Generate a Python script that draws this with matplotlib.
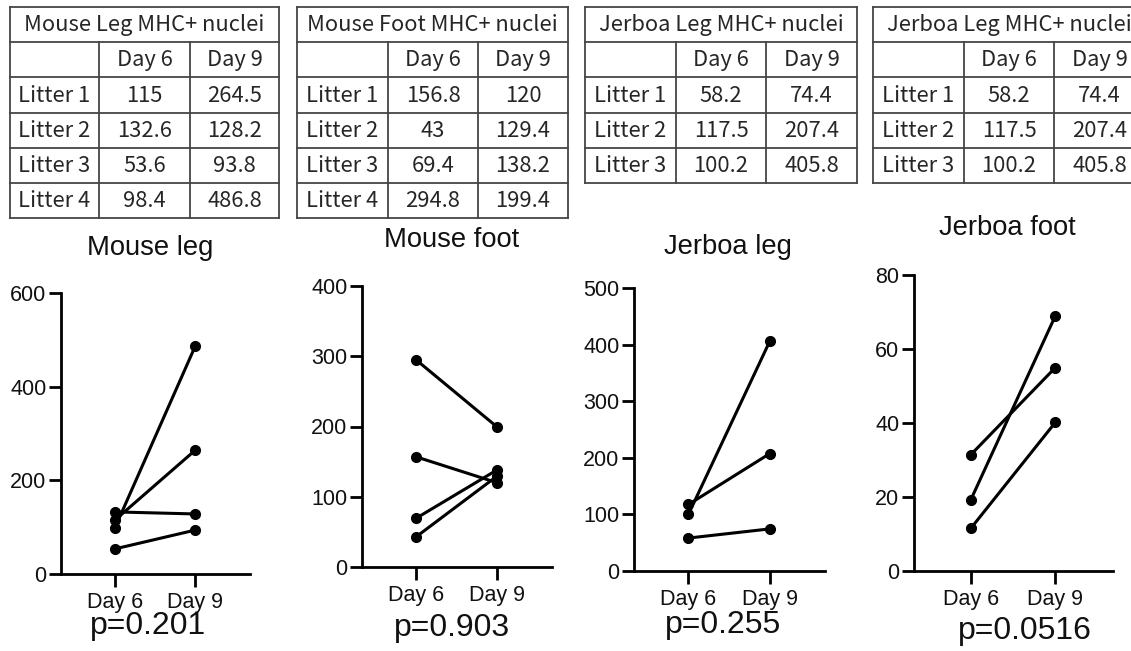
import matplotlib
matplotlib.use("Agg")
import matplotlib.pyplot as plt

W, H = 1131, 651

# ---------------- data ----------------
days = ["Day 6", "Day 9"]

mouse_leg_litters = ["Litter 1", "Litter 2", "Litter 3", "Litter 4"]
mouse_leg_day6 = [115, 132.6, 53.6, 98.4]
mouse_leg_day9 = [264.5, 128.2, 93.8, 486.8]
mouse_leg_d6_txt = ["115", "132.6", "53.6", "98.4"]
mouse_leg_d9_txt = ["264.5", "128.2", "93.8", "486.8"]

mouse_foot_litters = ["Litter 1", "Litter 2", "Litter 3", "Litter 4"]
mouse_foot_day6 = [156.8, 43, 69.4, 294.8]
mouse_foot_day9 = [120, 129.4, 138.2, 199.4]
mouse_foot_d6_txt = ["156.8", "43", "69.4", "294.8"]
mouse_foot_d9_txt = ["120", "129.4", "138.2", "199.4"]

jerboa_leg_litters = ["Litter 1", "Litter 2", "Litter 3"]
jerboa_leg_day6 = [58.2, 117.5, 100.2]
jerboa_leg_day9 = [74.4, 207.4, 405.8]
jerboa_leg_d6_txt = ["58.2", "117.5", "100.2"]
jerboa_leg_d9_txt = ["74.4", "207.4", "405.8"]

# jerboa foot values
jerboa_foot_day6 = [31.4, 19.2, 11.5]
jerboa_foot_day9 = [55.0, 69.0, 40.2]

table_titles = ["Mouse Leg MHC+ nuclei", "Mouse Foot MHC+ nuclei",
                "Jerboa Leg MHC+ nuclei", "Jerboa Leg MHC+ nuclei"]
plot_titles = ["Mouse leg", "Mouse foot", "Jerboa leg", "Jerboa foot"]
p_values = ["p=0.201", "p=0.903", "p=0.255", "p=0.0516"]
y_maxes = [600, 400, 500, 80]
y_steps = [200, 100, 100, 20]

tables = [
    (mouse_leg_litters, mouse_leg_d6_txt, mouse_leg_d9_txt),
    (mouse_foot_litters, mouse_foot_d6_txt, mouse_foot_d9_txt),
    (jerboa_leg_litters, jerboa_leg_d6_txt, jerboa_leg_d9_txt),
    (jerboa_leg_litters, jerboa_leg_d6_txt, jerboa_leg_d9_txt),
]
series = [
    (mouse_leg_day6, mouse_leg_day9),
    (mouse_foot_day6, mouse_foot_day9),
    (jerboa_leg_day6, jerboa_leg_day9),
    (jerboa_foot_day6, jerboa_foot_day9),
]

# ---------------- layout ----------------
fig = plt.figure(figsize=(W / 100, H / 100), dpi=100)
fig.patch.set_facecolor("white")

overlay = fig.add_axes([0, 0, 1, 1])
overlay.set_xlim(0, W)
overlay.set_ylim(H, 0)
overlay.axis("off")

TFONT = ["Noto Sans CJK JP", "DejaVu Sans"]
tcolor = "#262626"
lcolor = "#454545"
table_cols = [(10, 99, 190, 279), (297, 388, 478, 568),
              (585, 676, 766, 857), (873, 964, 1054, 1145)]
row_edges = [7, 42, 77, 113, 148, 183, 218]
tfs = 15.8

for (x0, x1, x2, x3), title, (labels, d6, d9) in zip(table_cols, table_titles, tables):
    nrows = 2 + len(labels)
    ys = row_edges[:nrows + 1]
    lw = 1.3
    for y in ys:
        overlay.plot([x0, x3], [y, y], color=lcolor, lw=lw, solid_capstyle="projecting")
    overlay.plot([x0, x0], [ys[0], ys[-1]], color=lcolor, lw=lw)
    overlay.plot([x3, x3], [ys[0], ys[-1]], color=lcolor, lw=lw)
    for x in (x1, x2):
        overlay.plot([x, x], [ys[1], ys[-1]], color=lcolor, lw=lw)
    overlay.text((x0 + x3) / 2, (ys[0] + ys[1]) / 2 + 0.5, title, ha="center", va="center",
                 fontsize=tfs, family=TFONT, color=tcolor)
    for j, d in enumerate(days):
        cx = [(x1 + x2) / 2, (x2 + x3) / 2][j]
        overlay.text(cx, (ys[1] + ys[2]) / 2 + 0.5, d, ha="center", va="center",
                     fontsize=tfs, family=TFONT, color=tcolor)
    for i, lab in enumerate(labels):
        cy = (ys[2 + i] + ys[3 + i]) / 2 + 0.5
        overlay.text((x0 + x1) / 2, cy, lab, ha="center", va="center",
                     fontsize=tfs, family=TFONT, color=tcolor)
        overlay.text((x1 + x2) / 2, cy, d6[i], ha="center", va="center",
                     fontsize=tfs, family=TFONT, color=tcolor)
        overlay.text((x2 + x3) / 2, cy, d9[i], ha="center", va="center",
                     fontsize=tfs, family=TFONT, color=tcolor)

# plot axes: (left, right, y0 px, ytop px)
axes_px = [(61, 250, 574, 293), (362, 552, 567, 286),
           (634, 825, 571, 288), (914, 1113, 571, 275)]
title_pos = [(150, 248), (452, 240), (728, 247), (1007, 228)]
p_pos = [(148, 626), (452, 628), (723, 625), (1025, 631)]

PF = ["Liberation Sans", "DejaVu Sans"]
xpos = [0, 1]

for k in range(4):
    l, r, b, t = axes_px[k]
    ax = fig.add_axes([l / W, (H - b) / H, (r - l) / W, (b - t) / H])
    d6, d9 = series[k]
    for a, c in zip(d6, d9):
        ax.plot(xpos, [a, c], color="black", lw=2.2, marker="o", ms=7,
                clip_on=False, zorder=3)
    ax.set_xlim(-0.67, 1.68)
    ax.set_ylim(0, y_maxes[k])
    ax.set_yticks(list(range(0, y_maxes[k] + 1, y_steps[k])))
    ax.set_xticks(xpos)
    ax.set_xticklabels(days)
    for s in ("top", "right"):
        ax.spines[s].set_visible(False)
    for s in ("left", "bottom"):
        ax.spines[s].set_linewidth(2.0)
    ax.tick_params(axis="both", direction="out", length=9, width=2.0,
                   labelsize=15.5, colors="black")
    ax.tick_params(axis="y", pad=1.5)
    ax.tick_params(axis="x", pad=4)
    for lab in ax.get_xticklabels() + ax.get_yticklabels():
        lab.set_family(PF)
        lab.set_color("#111111")
    ax.patch.set_alpha(0)

    tx, ty = title_pos[k]
    fig.text(tx / W, 1 - ty / H, plot_titles[k], ha="center", va="center",
             fontsize=19.7, family=PF, color="#111111")
    px, py = p_pos[k]
    fig.text(px / W, 1 - py / H, p_values[k], ha="center", va="center",
             fontsize=23, family=PF, color="#111111")

fig.savefig("out.png", dpi=100, facecolor="white")
